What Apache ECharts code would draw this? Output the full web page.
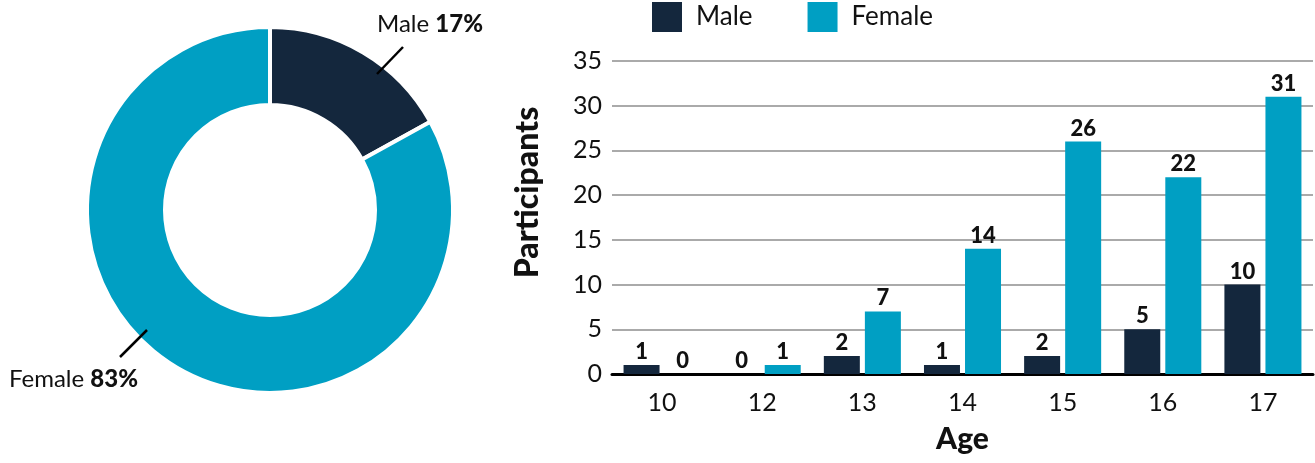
<!DOCTYPE html>
<html><head><meta charset="utf-8">
<script src="https://cdn.jsdelivr.net/npm/echarts@6/dist/echarts.min.js"></script>
<style>html,body{margin:0;padding:0;background:#fff}#c{width:1315px;height:463px}</style>
</head><body><div id="c"></div>
<script>
const ages = ['10','12','13','14','15','16','17'];
const male = [1,0,2,1,2,5,10];
const female = [0,1,7,14,26,22,31];
const pieNames = ['Male','Female'];
const pieValues = [17,83];
const yTicks = {min:0,max:35,interval:5};

const C_MALE = '#14273d', C_FEMALE = '#009fc3';
const FONT = 'Lato';
const chart = echarts.init(document.getElementById('c'));
const barLabel = {show:true,position:'top',distance:2,fontFamily:FONT,fontWeight:900,fontSize:22,color:'#111'};
chart.setOption({
  animation:false,
  textStyle:{fontFamily:FONT},
  legend:{data:['Male','Female'],top:2,left:652,padding:0,itemWidth:30,itemHeight:30,itemGap:55,icon:'rect',
    textStyle:{fontFamily:FONT,fontSize:26,color:'#111',padding:[0,0,0,9]}},
  grid:{left:612,right:2,top:61,bottom:89},
  xAxis:{type:'category',data:ages,name:'Age',nameLocation:'middle',nameGap:50,
    nameTextStyle:{fontFamily:FONT,fontWeight:900,fontSize:30,color:'#111'},
    axisLine:{lineStyle:{color:'#000',width:3}},axisTick:{show:false},
    axisLabel:{fontFamily:FONT,fontSize:25,color:'#111',margin:16}},
  yAxis:{type:'value',min:yTicks.min,max:yTicks.max,interval:yTicks.interval,name:'Participants',nameLocation:'middle',nameGap:68,
    nameTextStyle:{fontFamily:FONT,fontWeight:900,fontSize:32,color:'#111',padding:[0,0,0,50]},
    axisLine:{show:false},axisTick:{show:false},
    splitLine:{lineStyle:{color:'#aaa',width:2}},
    axisLabel:{fontFamily:FONT,fontSize:25,color:'#111',margin:10}},
  graphic:[
    {type:'line',shape:{x1:377,y1:74,x2:403,y2:47},style:{stroke:'#000',lineWidth:2.5},z:100},
    {type:'line',shape:{x1:147,y1:330,x2:120,y2:357},style:{stroke:'#000',lineWidth:2.5},z:100}
  ],
  series:[
    {name:'Male',type:'bar',data:male,barWidth:36,barGap:'14%',itemStyle:{color:C_MALE},label:barLabel},
    {name:'Female',type:'bar',data:female,barWidth:36,itemStyle:{color:C_FEMALE},label:barLabel},
    {type:'pie',center:[270,210],radius:[105,183],startAngle:90,clockwise:true,
      itemStyle:{borderColor:'#fff',borderWidth:4},
      data:pieNames.map((n,i)=>({name:n,value:pieValues[i],itemStyle:{color:i===0?C_MALE:C_FEMALE}})),
      label:{show:true,overflow:'none',formatter:p=>'{n|'+p.name+' }{b|'+p.value+'%}',
        rich:{n:{fontFamily:FONT,fontSize:24,color:'#111'},b:{fontFamily:FONT,fontSize:24,fontWeight:900,color:'#111'}}},
      labelLine:{show:false},
      labelLayout:function(p){
        if(p.dataIndex===0) return {x:377,y:24,align:'left',verticalAlign:'middle'};
        return {x:9,y:379,align:'left',verticalAlign:'middle'};
      }
    }
  ]
});
</script></body></html>
